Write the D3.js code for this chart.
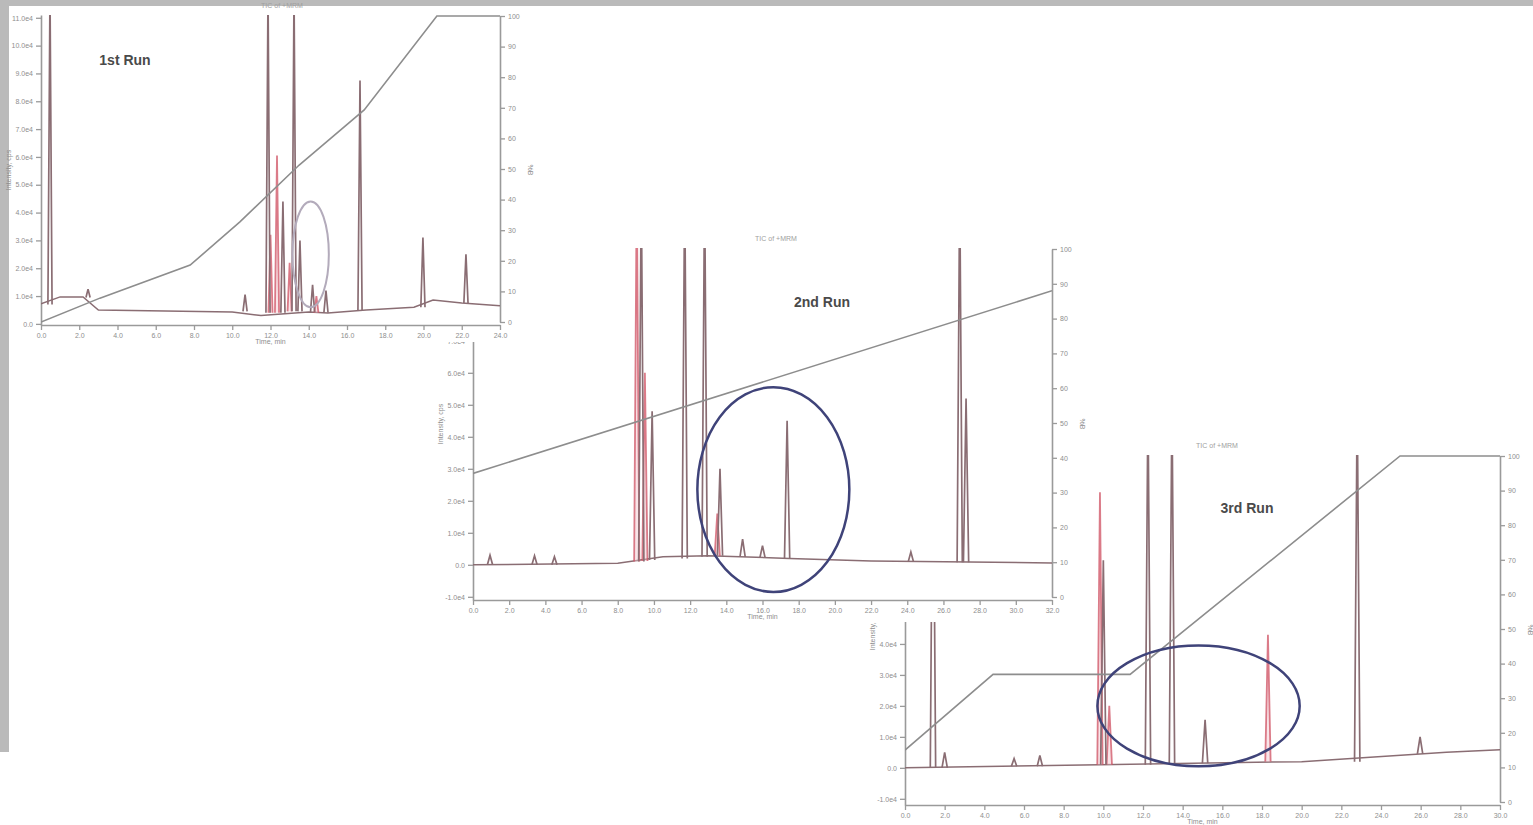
<!DOCTYPE html>
<html>
<head>
<meta charset="utf-8">
<script src="https://cdn.jsdelivr.net/npm/d3@7/dist/d3.min.js"></script>
<style>
  html, body { margin: 0; padding: 0; background: #ffffff; }
  svg { display: block; font-family: "Liberation Sans", Arial, sans-serif; }
</style>
</head>
<body>
<svg id="chart" width="1533" height="825"></svg>
<script>
// ---------------- DATA ----------------
// Run labels and small panel titles
const runLabels = ["1st Run", "2nd Run", "3rd Run"];
const panelTitles = ["TIC of +MRM", "TIC of +MRM", "TIC of +MRM"];
const xAxisTitle = "Time, min";
const leftAxisTitle = "Intensity, cps";
const rightAxisTitle = "%B";

// Run 1: peaks [time (min), apex intensity (x1e4), foot intensity]
const run1Peaks = [
  [0.47, 12.0, 0.7], [2.46, 1.25, 0.95], [10.67, 1.05, 0.45], [11.87, 12.0, 0.4],
  [12.65, 4.4, 0.4], [13.23, 12.0, 0.45], [13.54, 3.0, 0.45], [14.2, 1.4, 0.42],
  [14.9, 1.2, 0.4], [16.68, 8.75, 0.5], [19.97, 3.1, 0.6], [22.22, 2.5, 0.75]
];
const run1RedPeaks = [[12.34, 6.05, 0.4], [12.0, 3.2, 0.4], [13.0, 2.2, 0.45], [14.4, 1.0, 0.4]];
const run1Baseline = [
  [0, 0.72], [1.0, 0.97], [2.2, 0.97], [3.0, 0.5], [10.0, 0.43], [11.5, 0.3],
  [14.0, 0.43], [15.0, 0.39], [17.0, 0.5], [19.5, 0.6], [20.5, 0.86], [22.0, 0.75], [24.0, 0.65]
];
const run1Gradient = [[0, 0], [3.08, 7.8], [7.8, 18.6], [10.4, 32.7], [13.5, 51.3], [16.9, 69.3], [20.7, 100], [24, 100]];
const run1Oval = { t: 14.1, v: 2.5, rt: 0.95, rv: 1.9 };

// Run 2
const run2Peaks = [
  [0.94, 0.3, 0.0], [3.4, 0.28, 0.0], [4.5, 0.25, 0.0], [9.3, 12.0, 0.1],
  [9.9, 4.8, 0.15], [11.7, 12.0, 0.2], [12.8, 12.0, 0.25], [13.65, 3.0, 0.28],
  [14.9, 0.8, 0.25], [16.0, 0.6, 0.22], [17.36, 4.5, 0.2], [24.2, 0.4, 0.1],
  [26.9, 12.0, 0.08], [27.25, 5.2, 0.08]
];
const run2RedPeaks = [[9.05, 12.0, 0.1], [9.5, 6.0, 0.12], [13.5, 1.6, 0.28]];
const run2Baseline = [[0, 0.0], [8.0, 0.05], [10.5, 0.25], [13.0, 0.28], [17.5, 0.2], [22.0, 0.12], [32.0, 0.06]];
const run2Gradient = [[0, 35.5], [32, 88]];
const run2Oval = { t: 16.6, v: 2.35, rt: 4.2, rv: 3.2 };

// Run 3
const run3Peaks = [
  [1.41, 12.0, 0.0], [2.0, 0.5, 0.0], [5.5, 0.3, 0.05], [6.8, 0.4, 0.05],
  [10.0, 6.7, 0.1], [12.25, 12.0, 0.1], [13.46, 12.0, 0.12], [15.13, 1.55, 0.15],
  [22.8, 12.0, 0.2], [25.97, 1.0, 0.45]
];
const run3RedPeaks = [[9.83, 8.9, 0.1], [10.3, 2.0, 0.1], [18.3, 4.3, 0.2]];
const run3Baseline = [[0, 0.0], [9.8, 0.1], [20.0, 0.2], [27.3, 0.5], [30, 0.58]];
const run3Gradient = [[0, 15], [4.44, 36.9], [11.35, 36.9], [24.96, 100], [30, 100]];
const run3Oval = { t: 14.8, v: 2.0, rt: 5.1, rv: 1.95 };

// Tick values
const run1XTicks = [0, 2, 4, 6, 8, 10, 12, 14, 16, 18, 20, 22, 24];
const run2XTicks = [0, 2, 4, 6, 8, 10, 12, 14, 16, 18, 20, 22, 24, 26, 28, 30, 32];
const run3XTicks = [0, 2, 4, 6, 8, 10, 12, 14, 16, 18, 20, 22, 24, 26, 28, 30];
const run1YTicks = [0, 1, 2, 3, 4, 5, 6, 7, 8, 9, 10, 11];
const run2YTicks = [-1, 0, 1, 2, 3, 4, 5, 6, 7, 8, 9];
const run3YTicks = [-1, 0, 1, 2, 3, 4, 5, 6, 7, 8, 9, 10];
const gradTicks = [0, 10, 20, 30, 40, 50, 60, 70, 80, 90, 100];

// ---------------- DRAWING ----------------
const svg = d3.select("#chart");

// grey frame of the original screenshot
svg.append("rect").attr("x", 0).attr("y", 0).attr("width", 1533).attr("height", 6).attr("fill", "#bababa");
svg.append("rect").attr("x", 0).attr("y", 0).attr("width", 9).attr("height", 752).attr("fill", "#bababa");

const panels = [
  { id: 3, peaks: run3Peaks, red: run3RedPeaks, base: run3Baseline, grad: run3Gradient, oval: run3Oval,
    xT: run3XTicks, yT: run3YTicks, label: runLabels[2], title: panelTitles[2],
    bg: [860, 435, 673, 390], x: [905, 1500], yTop: 455, yBot: 805, xDom: [0, 30], yDom: [-1.2, 10.1],
    labelPos: [1247, 513], titlePos: [1217, 448], ovalColor: "#3f4379", ovalW: 2.5,
    extraLine: true },
  { id: 2, peaks: run2Peaks, red: run2RedPeaks, base: run2Baseline, grad: run2Gradient, oval: run2Oval,
    xT: run2XTicks, yT: run2YTicks, label: runLabels[1], title: panelTitles[1],
    bg: [425, 228, 660, 394], x: [473, 1052], yTop: 248, yBot: 600, xDom: [0, 32], yDom: [-1.1, 9.9],
    labelPos: [822, 307], titlePos: [776, 241], ovalColor: "#3f4379", ovalW: 2.5 },
  { id: 1, peaks: run1Peaks, red: run1RedPeaks, base: run1Baseline, grad: run1Gradient, oval: run1Oval,
    xT: run1XTicks, yT: run1YTicks, label: runLabels[0], title: panelTitles[0],
    bg: [9, 6, 526, 336], x: [41, 500], yTop: 15, yBot: 325, xDom: [0, 24], yDom: [-0.04, 11.1],
    labelPos: [125, 65], titlePos: [282, 8], ovalColor: "#b3abbb", ovalW: 2 }
];

const fmtY = v => (v === 0 ? "0.0" : (v * 1.0).toFixed(1) + "e4");

panels.forEach(p => {
  const g = svg.append("g");
  g.append("rect").attr("x", p.bg[0]).attr("y", p.bg[1]).attr("width", p.bg[2]).attr("height", p.bg[3]).attr("fill", "#fff");

  const x = d3.scaleLinear().domain(p.xDom).range(p.x);
  const y = d3.scaleLinear().domain(p.yDom).range([p.yBot, p.yTop]);
  const yr = d3.scaleLinear().domain([0, 100]).range([p.yBot - 3, p.yTop + 1]);

  const clipId = "clip" + p.id;
  g.append("clipPath").attr("id", clipId).append("rect")
    .attr("x", p.x[0]).attr("y", p.yTop).attr("width", p.x[1] - p.x[0]).attr("height", p.yBot - p.yTop);

  // axes
  const axStyle = sel => {
    sel.selectAll("path.domain").attr("stroke", "#9a9a9a").attr("stroke-width", 1.6);
    sel.selectAll(".tick line").attr("stroke", "#9a9a9a").attr("stroke-width", 1.3);
    sel.selectAll(".tick text").attr("fill", "#8e8e8e").attr("font-size", 7);
  };
  g.append("g").attr("transform", `translate(0,${p.yBot})`)
    .call(d3.axisBottom(x).tickValues(p.xT).tickSize(5).tickSizeOuter(0).tickFormat(d3.format(".1f")))
    .call(axStyle);
  g.append("g").attr("transform", `translate(${p.x[0]},0)`)
    .call(d3.axisLeft(y).tickValues(p.yT).tickSize(5).tickSizeOuter(0).tickFormat(fmtY))
    .call(axStyle);
  g.append("g").attr("transform", `translate(${p.x[1]},0)`)
    .call(d3.axisRight(yr).tickValues(gradTicks).tickSize(5).tickSizeOuter(0).tickFormat(d3.format("d")))
    .call(axStyle);

  // axis titles
  g.append("text").attr("x", (p.x[0] + p.x[1]) / 2).attr("y", p.yBot + 19)
    .attr("text-anchor", "middle").attr("font-size", 7).attr("fill", "#8e8e8e").text(xAxisTitle);
  g.append("text").attr("transform", `translate(${p.x[0] - 30},${(p.yTop + p.yBot) / 2}) rotate(-90)`)
    .attr("text-anchor", "middle").attr("font-size", 7).attr("fill", "#8e8e8e").text(leftAxisTitle);
  g.append("text").attr("transform", `translate(${p.x[1] + 28},${(p.yTop + p.yBot) / 2}) rotate(90)`)
    .attr("text-anchor", "middle").attr("font-size", 7).attr("fill", "#8e8e8e").text(rightAxisTitle);

  // title
  g.append("text").attr("x", p.titlePos[0]).attr("y", p.titlePos[1]).attr("text-anchor", "middle")
    .attr("font-size", 7).attr("fill", "#a0a0a0").text(p.title);

  const plot = g.append("g").attr("clip-path", `url(#${clipId})`);

  // baseline trace
  const line = d3.line().x(d => x(d[0])).y(d => y(d[1]));
  plot.append("path").datum(p.base).attr("d", line).attr("fill", "none")
    .attr("stroke", "#8a6d73").attr("stroke-width", 1.5);

  // peaks (spikes)
  const w = (p.xDom[1] - p.xDom[0]) * 0.0045;
  const spike = d => [[d[0] - w, d[2]], [d[0], d[1]], [d[0] + w, d[2]]];
  plot.selectAll("path.red").data(p.red).join("path").attr("class", "red")
    .attr("d", d => line(spike(d))).attr("fill", "#f2c4cc").attr("fill-opacity", 0.45)
    .attr("stroke", "#cf5163").attr("stroke-opacity", 0.75).attr("stroke-width", 1.8);
  plot.selectAll("path.pk").data(p.peaks).join("path").attr("class", "pk")
    .attr("d", d => line(spike(d))).attr("fill", "none")
    .attr("stroke", "#8a6d73").attr("stroke-width", 1.7);

  // gradient line
  const gl = d3.line().x(d => x(d[0])).y(d => yr(d[1]));
  plot.append("path").datum(p.grad).attr("d", gl).attr("fill", "none")
    .attr("stroke", "#8d8d8d").attr("stroke-width", 1.6);

  // highlight oval
  g.append("ellipse")
    .attr("cx", x(p.oval.t)).attr("cy", y(p.oval.v))
    .attr("rx", x(p.oval.t + p.oval.rt) - x(p.oval.t))
    .attr("ry", y(p.oval.v) - y(p.oval.v + p.oval.rv))
    .attr("fill", "none").attr("stroke", p.ovalColor).attr("stroke-width", p.ovalW);

  // run label
  g.append("text").attr("x", p.labelPos[0]).attr("y", p.labelPos[1]).attr("text-anchor", "middle")
    .attr("font-size", 14).attr("font-weight", "bold").attr("fill", "#4a4a4a").text(p.label);
});
</script>
</body>
</html>
